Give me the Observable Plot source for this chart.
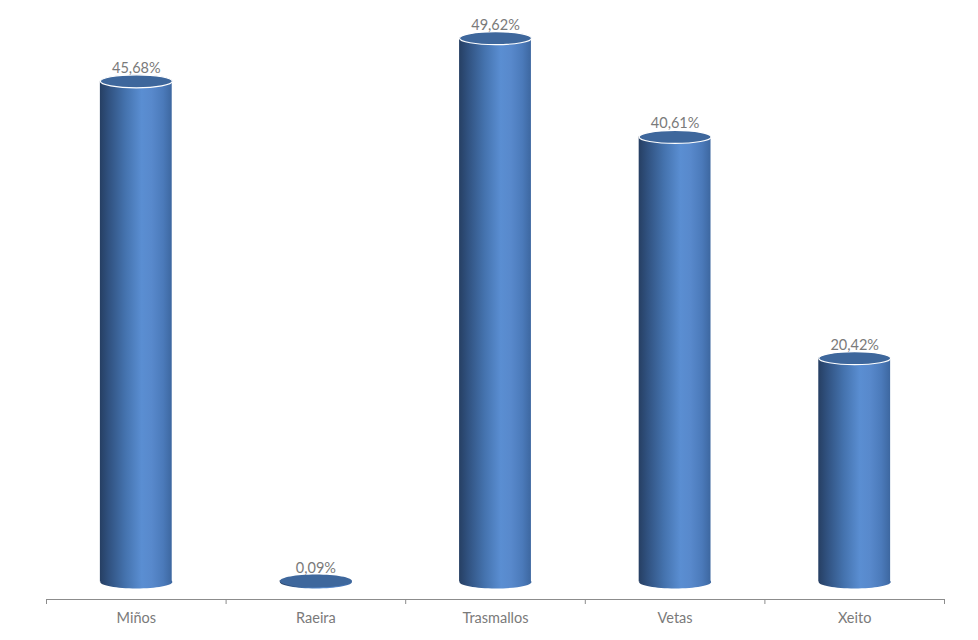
<!DOCTYPE html>
<html>
<head>
<meta charset="utf-8">
<script src="https://cdn.jsdelivr.net/npm/d3@7"></script>
<script src="https://cdn.jsdelivr.net/npm/@observablehq/plot@0.6"></script>
<style>
  html, body { margin: 0; padding: 0; background: #ffffff; }
  #chart { width: 978px; height: 640px; }
</style>
</head>
<body>
<div id="chart"></div>
<script>
const categories = ["Miños", "Raeira", "Trasmallos", "Vetas", "Xeito"];
const values = [45.68, 0.09, 49.62, 40.61, 20.42];
const valueLabels = ["45,68%", "0,09%", "49,62%", "40,61%", "20,42%"];

const data = categories.map((c, i) => ({i, category: c, value: values[i], label: valueLabels[i]}));

// elliptical symbol (flattened circle) for cylinder caps
const ellipse = {
  draw(context, size) {
    const rx = Math.sqrt(size / Math.PI), ry = rx * 0.18, k = 0.5523;
    context.moveTo(-rx, 0);
    context.bezierCurveTo(-rx, -ry * k, -rx * k, -ry, 0, -ry);
    context.bezierCurveTo(rx * k, -ry, rx, -ry * k, rx, 0);
    context.bezierCurveTo(rx, ry * k, rx * k, ry, 0, ry);
    context.bezierCurveTo(-rx * k, ry, -rx, ry * k, -rx, 0);
    context.closePath();
  }
};

const half = 0.2;

const plot = Plot.plot({
  width: 978,
  height: 640,
  marginLeft: 46,
  marginRight: 34,
  marginTop: 33.5,
  marginBottom: 41,
  insetBottom: 17.5,
  style: {background: "#ffffff", color: "#8c8c8c", fontFamily: "Lato, sans-serif", fontSize: "14.5px"},
  x: {domain: [-0.5, 4.5], ticks: [-0.5, 0.5, 1.5, 2.5, 3.5, 4.5], tickFormat: () => "", tickSize: 5, line: true, label: null},
  y: {domain: [0, 50], axis: null},
  marks: [
    Plot.dot(data, {x: "i", y: 0, r: 36, symbol: ellipse, fill: "url(#cylGrad)", stroke: "none"}),
    Plot.rectY(data, {x1: d => d.i - half, x2: d => d.i + half, y1: 0, y2: "value", fill: "url(#cylGrad)"}),
    Plot.dot(data, {x: "i", y: "value", r: 36, symbol: ellipse, fill: "#3e679c", stroke: d => d.value > 1 ? "#ffffff" : "none", strokeWidth: 1.2}),
    Plot.text(data, {x: "i", y: "value", text: "label", lineAnchor: "bottom", dy: -8.5, fill: "#7a7a7a", fontSize: 14.5}),
    Plot.text(data, {x: "i", y: 0, text: "category", dy: 36.5, fill: "#7a7a7a", fontSize: 14.5})
  ]
});

const svg = d3.select(plot);
const defs = svg.insert("defs", ":first-child");
const grad = defs.append("linearGradient").attr("id", "cylGrad").attr("x1", "0%").attr("x2", "100%").attr("y1", "0%").attr("y2", "0%");
[["0%", "#263f63"], ["12%", "#30517f"], ["35%", "#4472ad"], ["58%", "#5a8ed2"], ["72%", "#5889cc"], ["88%", "#4b7aba"], ["100%", "#3d67a0"]]
  .forEach(([o, c]) => grad.append("stop").attr("offset", o).attr("stop-color", c));

document.getElementById("chart").appendChild(plot);
</script>
</body>
</html>
